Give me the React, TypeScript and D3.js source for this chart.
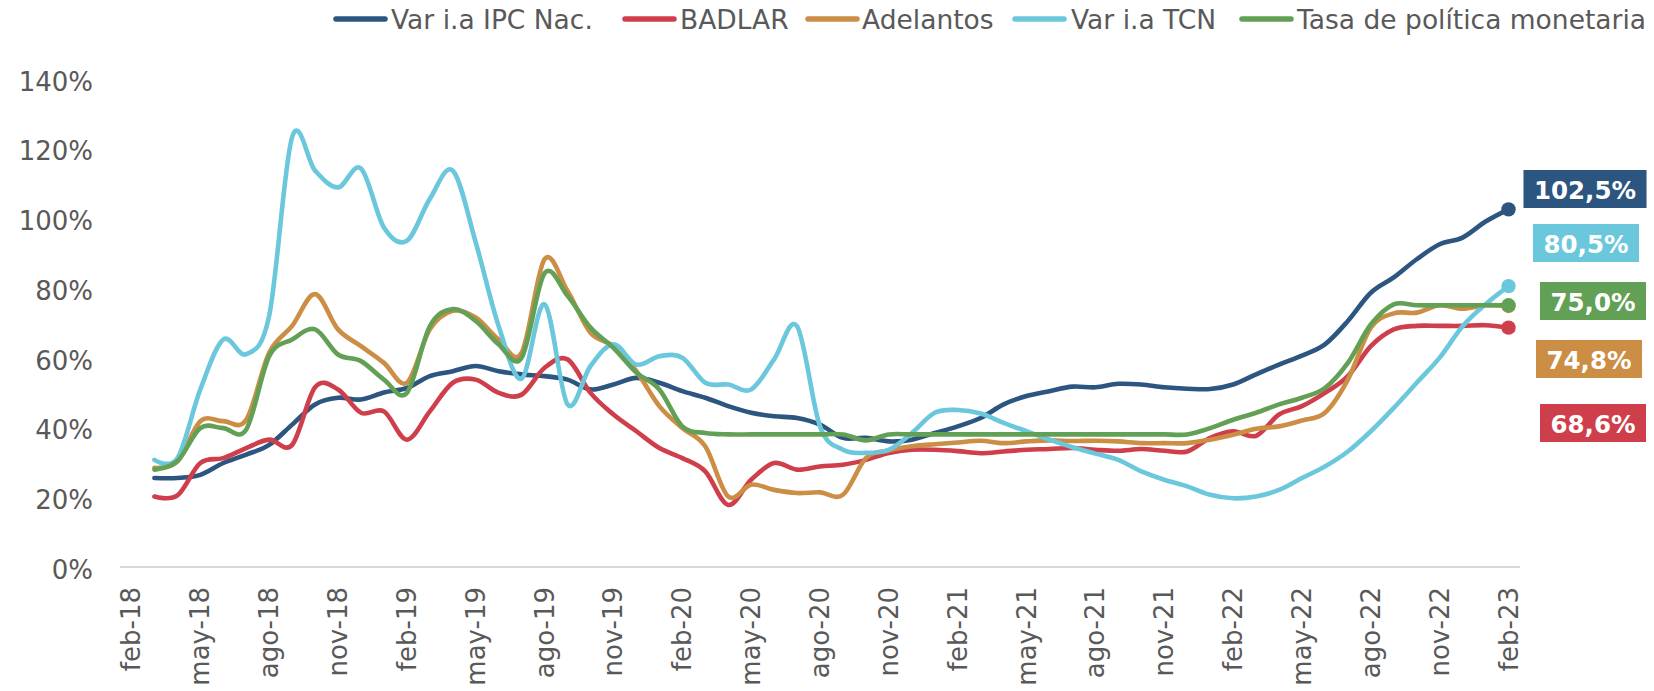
import React, { useEffect, useRef } from 'react';
import * as d3 from 'd3';

const W = 1654;
const H = 691;

// 61 monthly categories (feb-18 .. feb-23); the series start at mar-18
const months = [
  'feb-18', 'mar-18', 'abr-18', 'may-18', 'jun-18', 'jul-18', 'ago-18', 'sep-18', 'oct-18', 'nov-18', 'dic-18',
  'ene-19', 'feb-19', 'mar-19', 'abr-19', 'may-19', 'jun-19', 'jul-19', 'ago-19', 'sep-19', 'oct-19', 'nov-19', 'dic-19',
  'ene-20', 'feb-20', 'mar-20', 'abr-20', 'may-20', 'jun-20', 'jul-20', 'ago-20', 'sep-20', 'oct-20', 'nov-20', 'dic-20',
  'ene-21', 'feb-21', 'mar-21', 'abr-21', 'may-21', 'jun-21', 'jul-21', 'ago-21', 'sep-21', 'oct-21', 'nov-21', 'dic-21',
  'ene-22', 'feb-22', 'mar-22', 'abr-22', 'may-22', 'jun-22', 'jul-22', 'ago-22', 'sep-22', 'oct-22', 'nov-22', 'dic-22',
  'ene-23', 'feb-23',
];

const tickLabels = [
  'feb-18', 'may-18', 'ago-18', 'nov-18', 'feb-19', 'may-19', 'ago-19', 'nov-19', 'feb-20', 'may-20', 'ago-20',
  'nov-20', 'feb-21', 'may-21', 'ago-21', 'nov-21', 'feb-22', 'may-22', 'ago-22', 'nov-22', 'feb-23',
];

const yTicks = [0, 20, 40, 60, 80, 100, 120, 140];

const ipc = [null,
  25.5, 25.5, 26.4, 29.8, 32.2, 35, 40.8, 46.6, 48.5, 48,
  50, 51.3, 54.7, 56.1, 57.6, 56.1, 55.2, 54.7, 53.7, 50.9,
  52.3, 54.2, 52.8, 50.4, 48.5, 46.1, 44.2, 43.2, 42.7, 40.8,
  37, 37, 36, 36.5, 38.4, 40.3, 42.7, 46.6, 49, 50.4,
  51.7, 51.5, 52.5, 52.3, 51.5, 51.1, 51, 52.3, 55.2, 58,
  60.6, 63.8, 70.5, 78.6, 83, 88.2, 92.5, 94.4, 99, 102.5];

const badlar = [null,
  20.2, 20.5, 29.8, 31.2, 34.1, 36.5, 35, 51.5, 50.9, 44.2,
  44.6, 36.5, 44.6, 52.8, 53.7, 49.9, 49.4, 57.1, 59.5, 49.9,
  43.7, 38.9, 34.1, 31.2, 27.4, 17.8, 25, 29.8, 27.9, 28.8,
  29.3, 30.7, 32.7, 33.6, 33.6, 33.2, 32.6, 33.1, 33.6, 33.8,
  34.1, 33.6, 33.3, 33.8, 33.3, 33.1, 37, 38.9, 37.6, 43.7,
  46.1, 49.9, 54.7, 63.3, 68.1, 69.1, 69.1, 69.1, 69.3, 68.6];

const adelantos = [null,
  28.4, 30.3, 41.8, 41.8, 42.2, 61.4, 69.1, 78.2, 68.1, 63.3,
  58.5, 52.8, 68.1, 73.4, 71.5, 65.2, 61.4, 88.2, 79.1, 67.1,
  63.3, 56.1, 46.1, 39.8, 34.6, 20.2, 23.6, 22.1, 21.2, 21.4,
  20.7, 31.2, 33.4, 34.6, 35.2, 35.7, 36.2, 35.5, 36, 36.3,
  36.1, 36.2, 36, 35.5, 35.5, 35.5, 36.5, 37.9, 39.6, 40.3,
  42, 44.2, 53.7, 68.6, 72.7, 72.9, 75, 74, 75, 74.8];

const tcn = [null,
  30.7, 31.2, 50.9, 65.2, 61, 72, 123.2, 113.6, 108.8, 114.2,
  97.3, 93.5, 105.5, 113.6, 93, 69, 54, 75.3, 46.6, 57.6,
  63.8, 58, 60.4, 60, 52.8, 52.3, 50.9, 59.5, 69, 40.3,
  33.6, 32.7, 33.6, 38.4, 44.2, 45, 44, 41.3, 38.9, 36.5,
  34.3, 32.5, 30.7, 27.4, 25, 23.1, 20.7, 19.7, 20.2, 22.1,
  25.5, 28.8, 33.1, 38.9, 45.6, 52.8, 60, 69, 75.3, 80.5];

const tpm = [null,
  27.9, 30.3, 39.8, 39.8, 39.4, 60.4, 65.2, 68.1, 60.9, 59,
  53.7, 49.9, 69, 73.9, 70.5, 63.8, 60, 84.2, 77.7, 68.6,
  62.8, 55.7, 50.9, 40.3, 38.4, 38, 38, 38, 38, 38,
  38, 36.3, 38, 38, 38, 38, 38, 38, 38, 38,
  38, 38, 38, 38, 38, 38, 39.8, 42.2, 44.2, 46.6,
  48.5, 51.3, 58.5, 69.5, 75.3, 75, 75, 75, 75, 75];

const seriesNames = ['Var i.a IPC Nac.', 'BADLAR', 'Adelantos', 'Var i.a TCN', 'Tasa de política monetaria'];
const seriesValues = [ipc, badlar, adelantos, tcn, tpm];
const seriesColors = ['#2C5580', '#CF3F4B', '#CC8D45', '#6BC8DC', '#61A055'];

// end-label layout (box centres), in series order
const endLabelCenters = [
  [1585, 189],
  [1593, 423],
  [1589, 359],
  [1586, 243],
  [1593, 301],
];
// legend layout: x of line start, text start
const legendLayout = [
  [333, 391],
  [622, 680],
  [805, 862],
  [1012, 1071],
  [1239, 1297],
];

const fmt = (v: number) => v.toFixed(1).replace('.', ',') + '%';

export default function App() {
  const ref = useRef<SVGSVGElement>(null);

  useEffect(() => {
    const svg = d3.select(ref.current);
    svg.selectAll('*').remove();

    const x = d3.scaleBand<string>().domain(months).range([120, 1520]).paddingInner(0).paddingOuter(0);
    const cx = (m: string) => (x(m) as number) + x.bandwidth() / 2;
    const y = d3.scaleLinear().domain([0, 140]).range([567, 78.5]);

    const font = 'DejaVu Sans, Verdana, sans-serif';
    const gray = '#595959';

    // y axis labels
    svg.append('g')
      .selectAll('text')
      .data(yTicks)
      .join('text')
      .attr('x', 93)
      .attr('y', (d) => y(d) + 3)
      .attr('text-anchor', 'end')
      .attr('dominant-baseline', 'central')
      .attr('font-family', font)
      .attr('font-size', 26)
      .attr('fill', gray)
      .text((d) => d + '%');

    // x axis line
    svg.append('line')
      .attr('x1', x.range()[0]).attr('x2', x.range()[1])
      .attr('y1', y(0)).attr('y2', y(0))
      .attr('stroke', '#D9D9D9').attr('stroke-width', 2);

    // x tick labels
    svg.append('g')
      .selectAll('text')
      .data(tickLabels)
      .join('text')
      .attr('transform', (d) => `translate(${cx(d)},587) rotate(-90)`)
      .attr('text-anchor', 'end')
      .attr('dominant-baseline', 'central')
      .attr('font-family', font)
      .attr('font-size', 26)
      .attr('fill', gray)
      .text((d) => d);

    // lines
    const line = d3.line<number | null>()
      .defined((d) => d != null)
      .x((_, i) => cx(months[i]))
      .y((d) => y(d as number))
      .curve(d3.curveCatmullRom.alpha(0));

    seriesValues.forEach((vals, si) => {
      svg.append('path')
        .attr('d', line(vals))
        .attr('fill', 'none')
        .attr('stroke', seriesColors[si])
        .attr('stroke-width', 4.6)
        .attr('stroke-linejoin', 'round')
        .attr('stroke-linecap', 'round');
    });

    // end dots
    seriesValues.forEach((vals, si) => {
      const last = vals.length - 1;
      svg.append('circle')
        .attr('cx', cx(months[last]))
        .attr('cy', y(vals[last] as number))
        .attr('r', 7.2)
        .attr('fill', seriesColors[si]);
    });

    // end labels
    seriesValues.forEach((vals, si) => {
      const last = vals[vals.length - 1] as number;
      const [lx, ly] = endLabelCenters[si];
      const g = svg.append('g');
      const rect = g.append('rect').attr('fill', seriesColors[si]);
      const t = g.append('text')
        .attr('x', lx).attr('y', ly + 1)
        .attr('text-anchor', 'middle')
        .attr('dominant-baseline', 'central')
        .attr('font-family', font)
        .attr('font-weight', 'bold')
        .attr('font-size', 24.5)
        .attr('fill', '#FFFFFF')
        .text(fmt(last));
      const tw = (t.node() as SVGTextElement).getComputedTextLength();
      const bw = tw + 21;
      rect.attr('x', lx - bw / 2).attr('y', ly - 19).attr('width', bw).attr('height', 38);
    });

    // legend
    seriesNames.forEach((name, si) => {
      const [lx, tx] = legendLayout[si];
      svg.append('line')
        .attr('x1', lx + 3).attr('x2', lx + 52)
        .attr('y1', 19).attr('y2', 19)
        .attr('stroke', seriesColors[si])
        .attr('stroke-width', 5.5)
        .attr('stroke-linecap', 'round');
      svg.append('text')
        .attr('x', tx).attr('y', 19)
        .attr('dominant-baseline', 'central')
        .attr('font-family', font)
        .attr('font-size', 26.5)
        .attr('fill', gray)
        .text(name);
    });
  }, []);

  return (
    <svg
      ref={ref}
      width={W}
      height={H}
      style={{ position: 'absolute', left: 0, top: 0, background: '#FFFFFF' }}
    />
  );
}
